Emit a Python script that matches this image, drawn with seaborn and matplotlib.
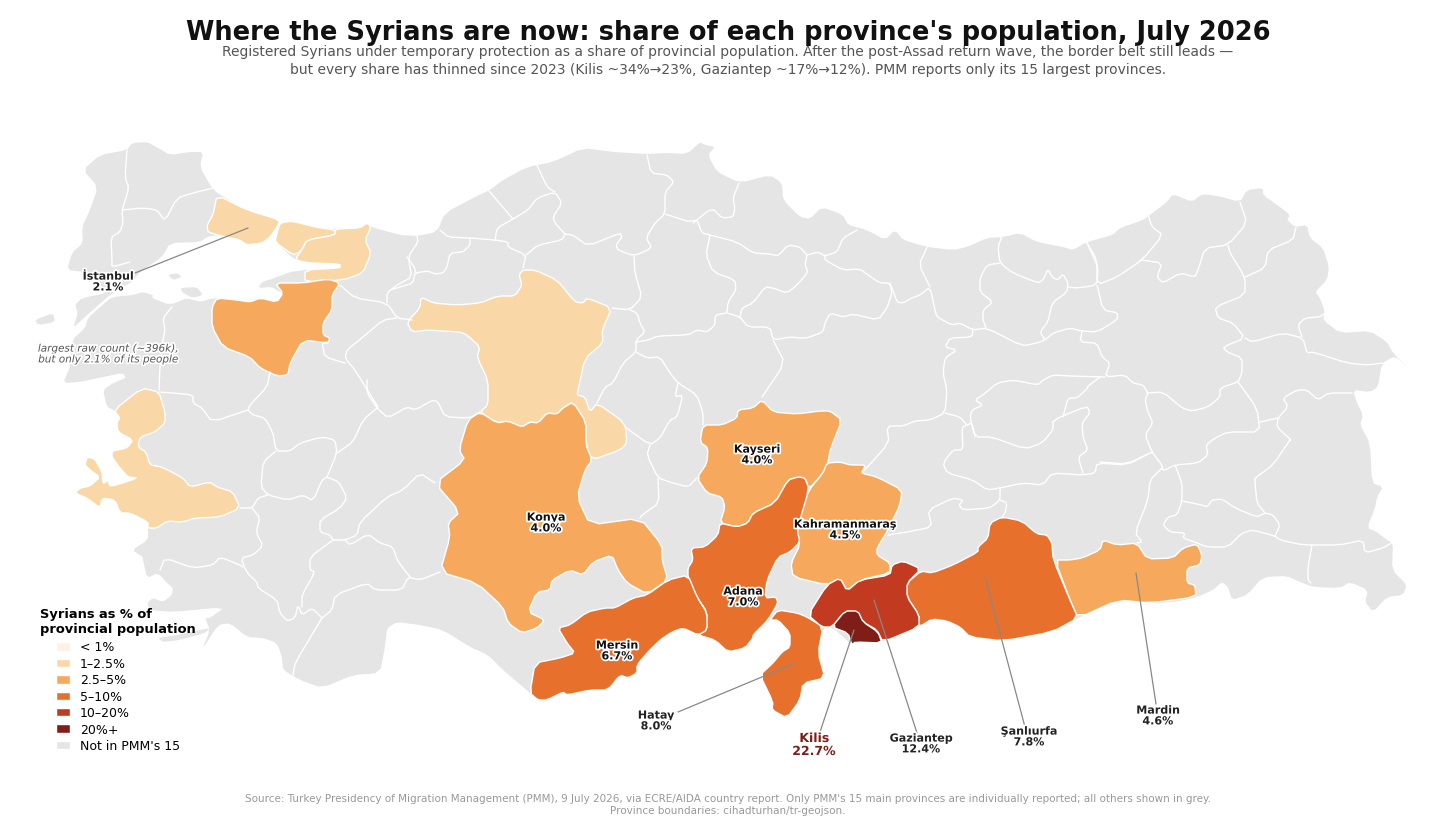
import matplotlib
matplotlib.use('Agg')
import matplotlib.pyplot as plt
import matplotlib.patheffects as pe
from matplotlib.patches import Patch
import seaborn as sns

# Outlines, in map units (x right, y down)
THRACE = [(83,170),(100,155),(127,150),(132,143),(147,142),(158,148),(170,155),(190,152),(203,152),(200,167),(210,185),(217,193),(247,210),(280,220),(277,227),(270,237),(262,243),(247,245),(240,240),(218,235),(207,237),(200,242),(170,243),(162,257),(140,272),(132,282),(112,293),(85,317),(73,328),(78,313),(75,305),(82,298),(107,293),(100,285),(85,272),(67,270),(72,253),(83,243),(82,227),(90,210),(98,187)]
ANATOLIA = [(112,297),(133,295),(143,292),(153,295),(152,298),(170,305),(187,298),(200,302),(213,298),(237,300),(250,302),(260,298),(277,302),(283,293),(278,291),(272,287),(258,288),(262,282),(272,279),(290,272),(304,270),(340,268),(340,264),(310,263),(295,260),(275,242),(277,233),(280,223),(292,221),(315,227),(335,229),(360,228),(367,223),(371,227),(400,235),(417,236),(437,232),(445,213),(473,198),(490,190),(503,180),(527,167),(553,162),(583,148),(613,152),(647,154),(667,153),(687,154),(700,142),(705,145),(715,147),(708,155),(717,172),(740,183),(770,175),(782,183),(783,200),(800,217),(810,219),(822,207),(843,215),(848,225),(867,230),(885,240),(895,230),(903,240),(927,247),(953,250),(967,247),(987,238),(1003,237),(1020,233),(1037,242),(1063,247),(1073,250),(1087,242),(1113,235),(1120,228),(1143,220),(1150,215),(1167,202),(1173,194),(1192,202),(1202,194),(1218,196),(1240,202),(1247,190),(1263,188),(1263,195),(1280,207),(1290,215),(1287,220),(1295,227),(1307,225),(1310,238),(1323,248),(1329,267),(1327,280),(1315,292),(1320,298),(1325,312),(1323,320),(1340,333),(1370,331),(1387,342),(1393,353),(1407,367),(1395,356),(1382,363),(1378,387),(1370,392),(1353,390),(1357,403),(1363,415),(1360,425),(1370,443),(1372,483),(1383,487),(1377,497),(1375,508),(1367,528),(1377,532),(1387,540),(1393,543),(1392,570),(1407,585),(1403,595),(1387,597),(1373,612),(1365,602),(1368,590),(1350,582),(1340,588),(1313,587),(1300,582),(1287,576),(1263,577),(1247,595),(1232,600),(1228,587),(1222,582),(1213,590),(1197,597),(1175,602),(1150,603),(1118,600),(1078,618),(1052,632),(1003,641),(970,637),(960,627),(947,621),(932,619),(918,627),(883,642),(853,642),(852,645),(832,627),(823,628),(818,653),(825,678),(803,683),(800,700),(787,718),(772,710),(773,702),(760,675),(773,663),(782,652),(790,647),(790,633),(778,620),(768,620),(753,635),(753,638),(745,648),(728,652),(715,640),(698,635),(683,628),(672,632),(660,640),(647,653),(637,665),(637,673),(628,678),(620,675),(608,690),(590,690),(567,695),(563,692),(547,700),(538,700),(530,693),(503,670),(488,655),(470,647),(443,630),(420,625),(397,622),(387,628),(385,647),(380,673),(353,675),(322,688),(300,680),(283,670),(282,657),(277,643),(263,638),(247,637),(230,623),(218,625),(202,650),(210,630),(205,618),(210,618),(225,607),(173,612),(150,610),(147,603),(153,598),(163,602),(172,595),(173,588),(167,583),(158,573),(147,578),(143,560),(143,557),(132,550),(148,540),(148,528),(148,522),(130,513),(120,513),(115,500),(102,498),(100,508),(87,498),(75,493),(80,488),(90,486),(100,477),(90,470),(85,465),(87,457),(95,459),(102,472),(103,484),(108,480),(110,487),(138,478),(128,477),(120,468),(112,457),(112,451),(127,448),(133,440),(118,432),(117,422),(120,418),(114,410),(107,407),(103,390),(113,383),(126,378),(123,373),(103,377),(80,382),(63,383),(70,367),(72,340),(85,328),(88,318),(100,307)]
ISLANDS = [
    [(35,320),(53,313),(55,322),(38,325)],
    [(180,288),(197,287),(203,295),(193,298),(183,293)],
    [(168,275),(177,273),(182,277),(173,280)],
    [(158,638),(177,635),(195,631),(210,628),(205,633),(180,640),(163,642)],
]

# Reported provinces: outline, share, bin
ISTANBUL = [(217,195),(247,210),(280,220),(277,227),(270,237),(262,243),(247,245),(240,240),(218,235),(208,232),(207,225),(213,215)]
KOCAELI = [(280,223),(292,221),(315,227),(335,230),(335,235),(307,240),(300,252),(293,255),(275,242),(277,233)]
SAKARYA = [(335,229),(360,228),(367,223),(371,227),(365,240),(371,253),(363,273),(343,280),(305,282),(305,270),(340,268),(340,264),(310,263),(295,260),(303,248),(307,240),(335,235)]
BURSA = [(275,283),(303,283),(328,279),(340,283),(332,295),(332,310),(323,323),(323,335),(330,338),(328,343),(303,340),(290,363),(288,375),(277,376),(260,368),(250,357),(223,347),(212,327),(212,307),(217,298),(237,300),(250,302),(260,298),(277,302),(283,293)]
IZMIR = [(114,410),(142,388),(159,392),(165,412),(165,423),(155,432),(140,437),(138,447),(146,452),(150,465),(162,467),(183,478),(190,487),(210,482),(217,487),(233,492),(240,508),(220,517),(195,518),(183,522),(167,521),(157,528),(148,528),(148,522),(130,513),(120,513),(115,500),(102,498),(100,508),(87,498),(75,493),(80,488),(90,486),(100,477),(90,470),(85,465),(87,457),(95,459),(102,472),(103,484),(108,480),(110,487),(138,478),(128,477),(120,468),(112,457),(112,451),(127,448),(133,440),(118,432),(117,422),(120,418)]
ANKARA = [(523,270),(535,270),(557,280),(575,302),(583,303),(587,298),(612,308),(602,330),(603,343),(585,358),(578,390),(577,395),(585,397),(590,412),(597,403),(625,423),(627,443),(620,450),(592,460),(586,445),(586,422),(573,402),(563,408),(557,414),(547,413),(538,423),(530,422),(522,427),(508,421),(497,423),(480,412),(488,405),(488,380),(477,357),(480,347),(467,335),(460,332),(428,330),(412,332),(407,322),(420,308),(421,297),(433,303),(457,305),(480,303),(498,296),(515,296),(522,285),(519,275)]
KONYA = [(480,412),(497,423),(508,421),(522,427),(530,422),(538,423),(547,413),(557,414),(563,408),(573,402),(586,422),(586,445),(592,460),(585,470),(577,497),(590,525),(640,518),(662,545),(662,560),(668,580),(647,594),(627,583),(618,570),(612,555),(593,562),(583,575),(570,570),(552,580),(550,590),(537,592),(528,612),(545,620),(537,628),(522,633),(508,623),(503,607),(477,583),(440,572),(450,537),(448,523),(460,512),(435,483),(465,460),(459,450),(468,420)]
KAYSERI = [(762,400),(773,412),(797,414),(820,411),(830,411),(842,420),(830,450),(828,463),(823,473),(809,489),(805,478),(798,477),(788,480),(775,503),(753,513),(748,523),(737,527),(720,523),(725,507),(722,497),(707,493),(697,478),(707,463),(708,448),(700,442),(703,425),(722,425),(737,418),(738,410),(753,408)]
MARAS = [(827,463),(840,462),(850,465),(866,465),(861,473),(877,477),(902,490),(900,505),(888,530),(877,548),(877,555),(890,563),(890,573),(860,580),(847,591),(840,578),(827,585),(793,577),(791,563),(800,545),(797,532),(800,513),(809,490),(823,473)]
ADANA = [(798,477),(805,478),(809,489),(797,530),(800,542),(790,552),(778,557),(767,580),(765,598),(776,597),(778,603),(768,620),(753,635),(753,638),(745,648),(728,652),(715,640),(698,635),(707,630),(707,612),(697,597),(688,577),(688,568),(693,560),(691,548),(705,547),(718,535),(720,523),(737,527),(748,523),(753,513),(775,503),(788,480)]
MERSIN = [(688,575),(697,597),(707,613),(707,630),(698,635),(683,628),(672,632),(660,640),(647,653),(637,665),(637,673),(628,678),(620,675),(608,690),(590,690),(567,695),(563,692),(547,700),(538,700),(530,693),(535,663),(560,658),(575,653),(567,643),(558,628),(570,625),(587,612),(605,608),(615,608),(633,598),(647,595),(668,580)]
HATAY = [(778,610),(797,613),(807,617),(823,627),(818,653),(825,678),(803,683),(800,700),(787,718),(772,710),(773,702),(760,675),(773,663),(782,652),(790,647),(790,633),(778,620),(770,620)]
GAZIANTEP = [(892,565),(903,561),(921,569),(907,583),(907,597),(919,615),(919,627),(883,642),(877,630),(863,622),(857,612),(845,611),(832,627),(822,627),(808,615),(827,585),(840,578),(847,591),(860,580),(890,575)]
KILIS = [(832,627),(845,611),(858,611),(863,622),(878,632),(882,643),(855,642),(852,645),(848,633)]
URFA = [(921,571),(932,573),(953,565),(978,552),(978,547),(988,538),(990,523),(1002,517),(1022,521),(1037,534),(1047,535),(1052,543),(1053,559),(1070,600),(1078,618),(1052,632),(1003,641),(970,637),(960,627),(947,621),(932,619),(919,627),(919,615),(907,597),(907,583)]
MARDIN = [(1055,560),(1070,560),(1082,558),(1100,550),(1103,540),(1117,545),(1137,543),(1147,559),(1173,558),(1183,548),(1197,544),(1202,555),(1200,565),(1187,568),(1187,583),(1195,585),(1196,597),(1150,603),(1118,600),(1078,618),(1070,600)]

# Borders between the provinces PMM does not report
GREY_BORDERS = [
    [(127,150),(125,177),(129,188),(122,210),(123,223),(120,232),(111,237),(112,260),(112,267),(130,262)],
    [(122,210),(143,208),(157,210),(165,221),(177,198),(193,193),(213,188)],
    [(172,307),(163,318),(165,330),(163,340),(160,365),(159,390)],
    [(159,392),(173,393),(193,395),(193,403),(202,408),(212,422),(248,410)],
    [(270,372),(267,387),(250,405),(248,410),(253,415),(265,418),(273,433),(276,451),(290,451),(300,443),(322,437),(335,440),(337,453),(327,477)],
    [(276,451),(263,462),(261,487),(268,495),(288,500),(303,495),(313,501),(322,480),(327,477),(339,482),(347,498),(340,508),(320,520),(320,532),(330,535),(333,540)],
    [(268,495),(258,498),(252,508),(240,508)],
    [(252,508),(260,518),(256,532),(263,546),(253,555),(241,558),(247,573),(257,582),(258,588),(277,600),(280,613),(287,621),(295,618),(298,605),(302,615),(312,608),(322,618)],
    [(160,570),(165,558),(193,568),(213,565),(220,557),(240,565),(243,567)],
    [(333,540),(310,557),(310,570),(315,572),(302,595),(302,607)],
    [(322,618),(295,663),(293,675)],
    [(322,618),(332,610),(335,595),(367,583),(375,590),(402,590),(408,577),(420,580),(440,572)],
    [(345,540),(350,545),(368,534),(380,543),(393,547),(397,560),(410,577)],
    [(333,540),(345,540),(357,535),(360,522),(387,497),(403,490),(420,473),(435,483)],
    [(377,408),(363,420),(353,442),(337,453)],
    [(367,380),(367,393),(377,408),(388,418),(407,407),(415,410),(433,400),(438,402),(445,417),(470,418),(480,412)],
    [(340,285),(355,298),(387,303),(397,318),(412,320)],
    [(387,303),(387,293),(397,285),(412,277),(408,257),(418,242),(417,236)],
    [(397,318),(383,320),(363,337),(347,350),(345,358),(355,370),(378,407)],
    [(328,343),(322,343),(325,357),(345,363)],
    [(489,191),(513,219)],
    [(440,230),(448,237),(470,238),(495,240),(508,242),(508,247),(526,255),(523,268)],
    [(526,255),(538,245),(562,240),(565,234)],
    [(470,238),(470,245),(463,252),(450,253),(447,267),(443,273),(435,274),(428,271),(415,273),(413,283),(400,287),(390,290)],
    [(407,257),(415,268),(415,273)],
    [(495,240),(497,228),(513,219),(528,210),(537,198),(555,192),(562,203),(553,217),(555,223),(565,234)],
    [(537,165),(547,187),(555,192)],
    [(565,234),(573,235),(588,246),(620,233),(622,237),(616,245),(618,250),(634,256),(652,248),(646,238),(655,223),(665,214),(665,192),(674,182),(667,175),(651,173),(647,155)],
    [(665,214),(693,223),(712,208),(722,218),(733,217),(735,208),(733,198),(739,183)],
    [(693,223),(697,220),(702,233),(710,235),(737,242),(753,253),(770,254),(778,256),(788,245),(800,247),(807,255)],
    [(710,235),(706,255),(713,272),(735,280),(736,290),(728,302),(727,313),(715,315),(715,325),(707,332),(697,330),(688,335),(658,336),(648,340),(636,342)],
    [(634,256),(635,273),(642,297),(630,310),(612,308)],
    [(630,310),(637,313),(640,323),(645,332),(636,340),(636,352),(623,363),(613,383),(605,387),(597,403)],
    [(636,352),(647,358),(660,357),(670,373),(678,383),(697,395),(703,413),(703,425)],
    [(678,383),(675,397),(683,395),(677,417),(670,420),(660,438),(650,445),(625,427)],
    [(650,445),(647,455),(658,478),(673,483),(688,487),(697,478)],
    [(658,478),(659,503),(642,515),(640,518)],
    [(727,313),(740,317),(748,327),(770,327),(773,340),(790,337),(800,338),(807,338),(823,332),(825,323),(830,313),(843,317),(853,314),(878,320),(887,308),(892,293),(890,283)],
    [(740,317),(742,308),(753,303),(765,287),(773,288),(787,293),(797,285),(808,272),(805,265),(807,255)],
    [(773,340),(785,363),(762,397)],
    [(857,230),(843,238),(837,252),(825,256),(818,252),(807,255)],
    [(825,256),(825,260),(843,270),(860,269),(868,275),(880,283),(890,283),(897,302),(903,303),(912,298),(920,295),(930,287),(935,310),(937,317),(952,325),(960,323),(973,330),(987,328),(1022,346),(1037,343),(1045,340),(1040,332),(1048,322),(1052,303),(1067,292),(1068,283),(1063,274),(1058,280),(1052,277),(1048,269),(1043,280),(1038,283),(1013,273),(1000,263),(998,247),(1002,236)],
    [(927,247),(919,265),(930,287)],
    [(1000,263),(987,265),(980,278),(980,292),(993,302),(983,310),(983,320),(986,328)],
    [(1068,287),(1078,288),(1097,285),(1098,267),(1087,243)],
    [(1097,285),(1103,310),(1118,313),(1117,320),(1097,332),(1082,331),(1070,328),(1053,333),(1045,340)],
    [(1082,331),(1080,342),(1097,343),(1102,357),(1110,363),(1105,377),(1125,375),(1133,383),(1143,385),(1148,393),(1145,400),(1148,412),(1153,423),(1145,435),(1152,452),(1162,465),(1163,471),(1175,465),(1198,463),(1208,455),(1206,445),(1215,438),(1228,432),(1260,432),(1257,408),(1238,382)],
    [(1105,377),(1070,376),(1053,375),(1043,380),(1038,385),(1013,380),(997,383),(983,395),(975,400),(983,405),(972,410),(970,417),(975,437),(992,437),(1025,449),(1042,443),(1053,430),(1053,420),(1087,406),(1090,413),(1082,423),(1083,437),(1088,450),(1078,457),(1083,473)],
    [(1100,377),(1087,387),(1088,388),(1077,398),(1068,398),(1063,417)],
    [(973,330),(972,337),(950,338),(945,347),(957,350),(945,358),(943,373),(947,390),(945,413),(930,420),(915,421),(903,426),(887,426),(889,443),(862,473)],
    [(945,413),(960,417),(967,425),(962,427),(963,450),(953,450),(943,463),(947,473),(973,480),(987,490),(1000,488),(1023,483),(1043,485),(1052,473),(1083,475),(1095,473),(1097,463),(1127,465),(1152,452)],
    [(967,425),(972,423),(975,437)],
    [(1000,488),(1000,500),(990,508),(963,510),(959,505),(963,500),(953,498),(928,510),(932,527),(907,532),(888,535)],
    [(1000,500),(1007,503),(1005,513),(1002,517)],
    [(1162,468),(1150,480),(1148,500),(1135,533),(1142,542),(1137,543)],
    [(1175,465),(1182,483),(1182,501),(1177,515),(1168,517),(1163,525),(1170,532),(1185,533),(1183,538),(1197,543)],
    [(1182,501),(1202,505),(1207,507),(1212,500),(1222,499),(1235,508),(1257,517),(1265,513),(1273,515),(1280,525),(1275,536)],
    [(1197,543),(1207,547),(1228,547),(1242,533),(1253,530),(1275,536),(1280,540),(1303,545),(1340,545),(1363,540),(1365,553),(1383,548),(1393,542)],
    [(1312,545),(1308,567),(1308,580),(1311,583)],
    [(1265,513),(1257,503),(1255,483),(1255,478),(1273,465),(1290,440),(1291,440),(1277,427),(1278,418),(1288,407),(1283,398),(1297,390),(1307,390),(1318,400),(1328,393),(1352,393)],
    [(1278,418),(1260,422)],
    [(1087,243),(1097,260),(1097,285),(1117,277),(1142,260),(1163,235),(1152,227),(1148,215)],
    [(1142,260),(1162,263),(1157,277),(1163,283),(1180,273),(1195,277),(1198,270),(1205,248),(1228,245),(1247,223),(1240,202)],
    [(1228,245),(1230,253),(1245,277),(1245,295),(1215,307),(1218,318),(1233,323),(1245,338),(1223,347),(1227,352),(1242,358),(1242,373),(1238,382),(1220,388),(1220,397),(1208,407),(1192,411),(1182,408),(1163,392),(1147,393)],
    [(1245,338),(1252,342),(1283,333),(1303,338),(1307,353),(1313,352),(1347,363),(1367,365),(1383,363)],
    [(1245,277),(1265,268),(1268,250),(1293,240),(1296,227)],
    [(1302,337),(1298,325),(1305,318),(1320,317),(1325,313)],
    [(1152,452),(1127,464),(1100,462)],
]

SHARE_BINS = ["< 1%", "1–2.5%", "2.5–5%", "5–10%", "10–20%", "20%+", "Not in PMM's 15"]
BIN_COLORS = ["#FEF0E2", "#FAD7A6", "#F6A95C", "#E8702D", "#C23A1F", "#7F1D17", "#E5E5E5"]

BIN_1_25 = [ISTANBUL, KOCAELI, SAKARYA, IZMIR, ANKARA]
BIN_25_5 = [BURSA, KONYA, KAYSERI, MARAS, MARDIN]
BIN_5_10 = [ADANA, MERSIN, HATAY, URFA]
BIN_10_20 = [GAZIANTEP]
BIN_20 = [KILIS]

# name, share, label position, anchor inside the province
INSIDE_LABELS = [("Kayseri", "4.0%", 757, 455), ("Konya", "4.0%", 546, 523),
                 ("Kahramanmaraş", "4.5%", 845, 530), ("Adana", "7.0%", 743, 597),
                 ("Mersin", "6.7%", 617, 651)]
LEADER_LABELS = [("İstanbul", "2.1%", 108, 282, (248,228), (135,273)),
                 ("Hatay", "8.0%", 656, 721, (793,664), (678,712)),
                 ("Gaziantep", "12.4%", 921, 744, (874,600), (917,733)),
                 ("Şanlıurfa", "7.8%", 1029, 737, (985,577), (1025,727)),
                 ("Mardin", "4.6%", 1158, 716, (1136,573), (1156,704))]

sns.set_theme(style="white", font="DejaVu Sans")
palette = sns.color_palette(BIN_COLORS)

fig = plt.figure(figsize=(14.56, 8.38), dpi=100, facecolor="white")
ax = fig.add_axes([0, 0, 1, 1])
ax.set_xlim(0, 1456)
ax.set_ylim(838, 0)
ax.axis("off")


def soften(points, closed=True, cut=0.18):
    # one corner-cutting pass, the traced outlines are rather angular
    pts = list(points) + [points[0]] if closed else list(points)
    out = [] if closed else [pts[0]]
    for a, b in zip(pts[:-1], pts[1:]):
        out.append((a[0] + cut * (b[0] - a[0]), a[1] + cut * (b[1] - a[1])))
        out.append((b[0] - cut * (b[0] - a[0]), b[1] - cut * (b[1] - a[1])))
    if not closed:
        out.append(pts[-1])
    return out


def draw_shape(points, color, edge="none"):
    pts = soften(points)
    ax.fill([p[0] for p in pts], [p[1] for p in pts], facecolor=color, edgecolor=edge,
            linewidth=1.0, joinstyle="round", zorder=2)


for shape in [THRACE, ANATOLIA] + ISLANDS:
    draw_shape(shape, palette[6])
for line in GREY_BORDERS:
    pts = soften(line, closed=False)
    ax.plot([p[0] for p in pts], [p[1] for p in pts], color="white", linewidth=1.0, zorder=3)
for idx, group in enumerate([BIN_1_25, BIN_25_5, BIN_5_10, BIN_10_20, BIN_20], start=1):
    for shape in group:
        draw_shape(shape, palette[idx], edge="white")

halo = [pe.withStroke(linewidth=2.5, foreground="white")]
for name, share, x, y in INSIDE_LABELS:
    ax.text(x, y, f"{name}\n{share}", ha="center", va="center", fontsize=8, fontweight="bold",
            color="#111111", linespacing=1.1, path_effects=halo, zorder=6)
for name, share, x, y, start, end in LEADER_LABELS:
    ax.plot([start[0], end[0]], [start[1], end[1]], color="#888888", linewidth=0.9, zorder=5)
    ax.text(x, y, f"{name}\n{share}", ha="center", va="center", fontsize=8, fontweight="bold",
            color="#222222", linespacing=1.1, path_effects=halo, zorder=6)

# Kilis gets its own emphasis
ax.plot([854, 820], [630, 732], color="#888888", linewidth=0.9, zorder=5)
ax.text(814, 745, "Kilis\n22.7%", ha="center", va="center", fontsize=9, fontweight="bold",
        color="#7F1D17", linespacing=1.0, path_effects=halo, zorder=6)

ax.text(108, 354, "largest raw count (~396k),\nbut only 2.1% of its people", ha="center", va="center",
        fontsize=7.5, style="italic", color="#555555", linespacing=1.1, path_effects=halo, zorder=6)

ax.text(728, 33, "Where the Syrians are now: share of each province's population, July 2026",
        ha="center", va="center", fontsize=18.5, fontweight="bold", color="#111111")
ax.text(728, 61, "Registered Syrians under temporary protection as a share of provincial population. "
        "After the post-Assad return wave, the border belt still leads —\n"
        "but every share has thinned since 2023 (Kilis ~34%→23%, Gaziantep ~17%→12%). "
        "PMM reports only its 15 largest provinces.",
        ha="center", va="center", fontsize=10, color="#555555", linespacing=1.3)
ax.text(728, 805, "Source: Turkey Presidency of Migration Management (PMM), 9 July 2026, via ECRE/AIDA country report. "
        "Only PMM's 15 main provinces are individually reported; all others shown in grey.\n"
        "Province boundaries: cihadturhan/tr-geojson.",
        ha="center", va="center", fontsize=7.5, color="#999999", linespacing=1.25)

ax.text(40, 622, "Syrians as % of\nprovincial population", ha="left", va="center", fontsize=9.4,
        fontweight="bold", color="black", linespacing=1.15, zorder=7)
handles = [Patch(facecolor=c, edgecolor="white", linewidth=0.3, label=b) for c, b in zip(palette, SHARE_BINS)]
legend = ax.legend(handles=handles, loc="lower left", bbox_to_anchor=(57 / 1456, (838 - 753) / 838),
                   frameon=False, fontsize=9, borderpad=0, borderaxespad=0, handlelength=1.0,
                   handleheight=0.55, labelspacing=0.275, handletextpad=0.85, labelcolor="black")
legend.set_zorder(7)

fig.savefig("out.png", dpi=100, facecolor="white")
